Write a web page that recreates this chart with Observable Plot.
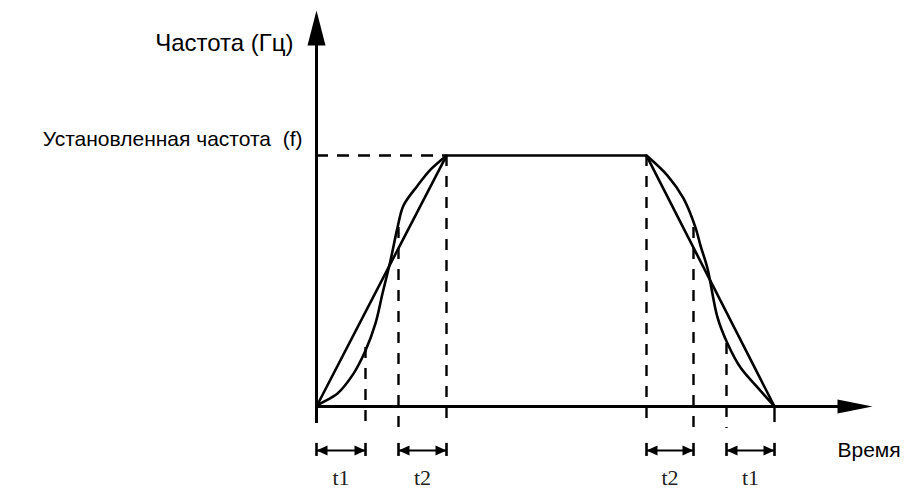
<!DOCTYPE html>
<html><head><meta charset="utf-8">
<script src="https://cdn.jsdelivr.net/npm/d3@7"></script>
<script src="https://cdn.jsdelivr.net/npm/@observablehq/plot@0.6"></script>
<style>body{margin:0;background:#fff}</style>
</head><body><div id="chart"></div>
<script>
// ---- data (time in arbitrary units, frequency as fraction of set frequency f) ----
const profileT = [0, 13, 33, 45.8];
const profileF = [0, 1, 1, 0];
const sUpT = [0, 0.4, 2.1, 3.7, 4.9, 5.9, 6.6, 7.4, 8.1, 8.7, 10.1, 11.4, 13];
const sUpF = [0, 0.012, 0.052, 0.131, 0.223, 0.331, 0.45, 0.582, 0.713, 0.801, 0.88, 0.944, 1];
const sDownT = [33, 35.1, 36.7, 37.9, 38.4, 39.1, 40.1, 41.1, 42.4, 44.1, 45.8];
const sDownF = [1, 0.92, 0.829, 0.713, 0.641, 0.55, 0.355, 0.251, 0.155, 0.076, 0];
const guideT = [4.9, 8.2, 13, 33, 37.7, 41];
const guideTop = [0.235, 0.713, 1, 1, 0.713, 0.251];
const phaseLabels = ["t1", "t2", "t2", "t1"];
const phaseStart = [0, 8.2, 33, 41];
const phaseEnd = [4.9, 13, 37.7, 45.8];
const axisTitleY = "Частота (Гц)";
const axisTitleX = "Время";
const levelLabel = "Установленная частота  (f)";
const levelF = 1;
const tEnd = 45.8;
const tMax = 55.6, fMax = 1.578;

// ---- tables built from arrays ----
const profile = profileT.map((t, i) => ({t, f: profileF[i]}));
const sUp = sUpT.map((t, i) => ({t, f: sUpF[i]}));
const sDown = sDownT.map((t, i) => ({t, f: sDownF[i]}));
const guides = guideT.map((t, i) => ({t, top: guideTop[i]}));
const phases = phaseLabels.map((label, i) => ({label, a: phaseStart[i], b: phaseEnd[i], mid: (phaseStart[i] + phaseEnd[i]) / 2}));

function tri(len, half, dir) {
  return {draw(ctx) {
    const pts = {
      up: [[0, 0], [-half, len], [half, len]],
      right: [[0, 0], [-len, -half], [-len, half]],
      left: [[0, 0], [len, -half], [len, half]]
    }[dir];
    ctx.moveTo(pts[0][0], pts[0][1]);
    ctx.lineTo(pts[1][0], pts[1][1]);
    ctx.lineTo(pts[2][0], pts[2][1]);
    ctx.closePath();
  }};
}

const ink = "#000";
const dimY = -0.175, tickLo = -0.147, tickHi = -0.199, labY = -0.283;
const sans = "'Liberation Sans', Arial, sans-serif";

const chart = Plot.plot({
  width: 915,
  height: 495,
  x: {domain: [0, tMax], range: [316, 872], axis: null},
  y: {domain: [0, fMax], range: [406, 10], axis: null},
  style: {background: "#fff"},
  marks: [
    // dashed guides
    Plot.ruleY([levelF], {x1: 0, x2: profileT[1], stroke: ink, strokeWidth: 2.4, strokeDasharray: "12,9"}),
    Plot.ruleX(guides, {x: "t", y1: "top", y2: -0.088, stroke: ink, strokeWidth: 2.4, strokeDasharray: "11,10"}),
    Plot.ruleX([tEnd], {y1: 0, y2: -0.064, stroke: ink, strokeWidth: 2.4}),
    // axes
    Plot.ruleY([0], {x1: 0, x2: tMax - 1, stroke: ink, strokeWidth: 3}),
    Plot.ruleX([0], {y1: -0.068, y2: fMax - 0.05, stroke: ink, strokeWidth: 3}),
    Plot.dot([{t: tMax, f: 0}], {x: "t", y: "f", symbol: tri(35, 7, "right"), fill: ink, stroke: null}),
    Plot.dot([{t: 0, f: fMax}], {x: "t", y: "f", symbol: tri(35, 9, "up"), fill: ink, stroke: null}),
    // profiles
    Plot.line(profile, {x: "t", y: "f", stroke: ink, strokeWidth: 2.6, strokeLinejoin: "miter"}),
    Plot.line(sUp, {x: "t", y: "f", stroke: ink, strokeWidth: 2.6, curve: "catmull-rom"}),
    Plot.line(sDown, {x: "t", y: "f", stroke: ink, strokeWidth: 2.6, curve: "catmull-rom"}),
    // dimension arrows
    Plot.ruleY(phases, {x1: "a", x2: "b", y: dimY, stroke: ink, strokeWidth: 2}),
    Plot.ruleX(phases, {x: "a", y1: tickLo, y2: tickHi, stroke: ink, strokeWidth: 2.6}),
    Plot.ruleX(phases, {x: "b", y1: tickLo, y2: tickHi, stroke: ink, strokeWidth: 2.6}),
    Plot.dot(phases, {x: "a", y: dimY, symbol: tri(11, 5, "left"), fill: ink, stroke: null}),
    Plot.dot(phases, {x: "b", y: dimY, symbol: tri(11, 5, "right"), fill: ink, stroke: null}),
    Plot.text(phases, {x: "mid", y: labY, text: "label", fontFamily: "'Liberation Serif', 'Times New Roman', serif", fontSize: 22, fill: "#222"}),
    // labels
    Plot.text([axisTitleY], {x: 0, y: fMax, dx: -23, dy: 33, text: d => d, textAnchor: "end", fontFamily: sans, fontSize: 24, fill: ink}),
    Plot.text([levelLabel], {x: 0, y: levelF, dx: -14, dy: -16, text: d => d, textAnchor: "end", fontFamily: sans, fontSize: 21, fill: ink}),
    Plot.text([axisTitleX], {x: tMax, y: 0, dx: -35, dy: 44, text: d => d, textAnchor: "start", fontFamily: sans, fontSize: 21, fill: ink})
  ]
});
document.getElementById("chart").appendChild(chart);
</script>
</body></html>
